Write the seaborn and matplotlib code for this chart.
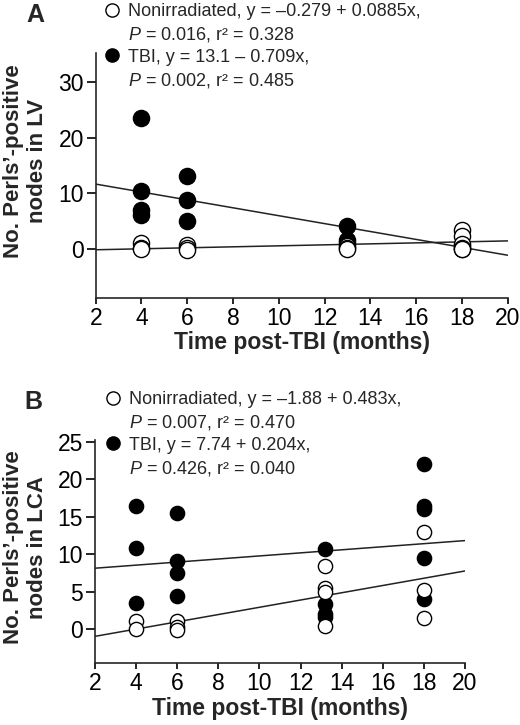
import numpy as np
import pandas as pd
import matplotlib
matplotlib.use("Agg")
import matplotlib.pyplot as plt
from matplotlib.lines import Line2D
import seaborn as sns

# ---------------- data ----------------
# Panel A: LV
a_tbi_x = [4, 4, 4, 4, 6, 6, 6, 13, 13, 13, 18, 18]
a_tbi_y = [23.5, 10.5, 7.0, 6.2, 13.2, 8.8, 5.0, 4.2, 1.7, 1.2, 0.5, 0.0]
a_non_x = [4, 4, 4, 6, 6, 6, 13, 13, 13, 18, 18, 18, 18, 18]
a_non_y = [1.2, 0.2, 0.0, 0.8, 0.3, -0.1, 0.5, 0.2, 0.0, 3.5, 2.4, 0.9, 0.3, 0.0]
a_non_fit = (-0.279, 0.0885)   # intercept, slope
a_tbi_fit = (13.1, -0.709)

# Panel B: LCA
b_tbi_x = [4, 4, 4, 6, 6, 6, 6, 13.2, 13.2, 13.2, 13.2, 18, 18, 18, 18, 18]
b_tbi_y = [16.4, 10.9, 3.5, 15.45, 9.1, 7.45, 4.4, 10.65, 3.45, 2.0, 1.7, 22.0, 16.4, 16.0, 9.45, 4.0]
b_non_x = [4, 4, 6, 6, 6, 13.2, 13.2, 13.2, 13.2, 18, 18, 18]
b_non_y = [1.1, 0.0, 1.1, 0.35, -0.1, 8.5, 5.5, 5.0, 0.5, 13.0, 5.3, 1.55]
b_non_fit = (-1.88, 0.483)
b_tbi_fit = (7.74, 0.204)

a_legend = ["Nonirradiated, y = \u20130.279 + 0.0885x,",
            "$P$ = 0.016, r\u00b2 = 0.328",
            "TBI, y = 13.1 \u2013 0.709x,",
            "$P$ = 0.002, r\u00b2 = 0.485"]
b_legend = ["Nonirradiated, y = \u20131.88 + 0.483x,",
            "$P$ = 0.007, r\u00b2 = 0.470",
            "TBI, y = 7.74 + 0.204x,",
            "$P$ = 0.426, r\u00b2 = 0.040"]

fit_x = [2, 20]

# ---------------- style ----------------
sns.set_style("ticks")
plt.rcParams["font.family"] = ["Liberation Sans", "DejaVu Sans"]
plt.rcParams["mathtext.fontset"] = "custom"
plt.rcParams["mathtext.rm"] = "Liberation Sans"
plt.rcParams["mathtext.it"] = "Liberation Sans:italic"
plt.rcParams["axes.linewidth"] = 1.2
plt.rcParams["xtick.major.width"] = 1.2
plt.rcParams["ytick.major.width"] = 1.2
plt.rcParams["xtick.major.size"] = 4.5
plt.rcParams["ytick.major.size"] = 6.5

fig = plt.figure(figsize=(5.2, 7.25), dpi=100)
W, H = 520, 725


def px_axes(l, t, r, b):
    return fig.add_axes([l / W, 1 - b / H, (r - l) / W, (b - t) / H])


def draw_panel(ax, tbi_x, tbi_y, non_x, non_y, non_fit, tbi_fit, ms):
    for a0, b0 in (non_fit, tbi_fit):
        fy = [a0 + b0 * v for v in fit_x]
        sns.lineplot(x=fit_x, y=fy, ax=ax, color="#222222", lw=1.1, zorder=1)
    sns.scatterplot(x=tbi_x, y=tbi_y, ax=ax, s=ms, color="black",
                    edgecolor="black", linewidth=1.0, zorder=2)
    sns.scatterplot(x=non_x, y=non_y, ax=ax, s=ms, color="white",
                    edgecolor="black", linewidth=1.0, zorder=3)
    sns.despine(ax=ax)
    ax.set_xlim(2, 20)
    ax.set_xticks(np.arange(2, 21, 2))
    ax.tick_params(labelsize=16.5, pad=2, colors="black")
    ax.set_xlabel("Time post-TBI (months)", fontsize=16.5, fontweight="bold", labelpad=1)


def add_legend(labels, x, y):
    handles = [Line2D([], [], marker="o", ls="none", ms=9.5, mfc="white", mec="black", mew=1.0),
               Line2D([], [], ls="none"),
               Line2D([], [], marker="o", ls="none", ms=9.5, mfc="black", mec="black", mew=1.0),
               Line2D([], [], ls="none")]
    fig.legend(handles, labels, loc="upper left", bbox_to_anchor=(x / W, 1 - y / H),
               frameon=False, fontsize=13, handlelength=0.9, handletextpad=0.45,
               labelspacing=0.27, borderpad=0, borderaxespad=0)


# Panel A
axA = px_axes(95.7, 53, 507.7, 297.7)
draw_panel(axA, a_tbi_x, a_tbi_y, a_non_x, a_non_y, a_non_fit, a_tbi_fit, 135)
axA.set_ylim(-8.7, 35.2)
axA.set_yticks([0, 10, 20, 30])
axA.set_ylabel("No. Perls\u2019-positive\nnodes in LV", fontsize=16, fontweight="bold",
               linespacing=1.2)
axA.yaxis.set_label_coords(-0.115, 0.56)
fig.text(35 / W, 1 - 15 / H, "A", fontsize=18, fontweight="bold", ha="center", va="center")
add_legend(a_legend, 104, 3)

# Panel B
axB = px_axes(95, 440, 465, 663.3)
draw_panel(axB, b_tbi_x, b_tbi_y, b_non_x, b_non_y, b_non_fit, b_tbi_fit, 105)
axB.set_ylim(-4.5, 25.2)
axB.set_yticks([0, 5, 10, 15, 20, 25])
axB.set_ylabel("No. Perls\u2019-positive\nnodes in LCA", fontsize=16, fontweight="bold",
               linespacing=1.2)
axB.yaxis.set_label_coords(-0.127, 0.52)
fig.text(33 / W, 1 - 402 / H, "B", fontsize=18, fontweight="bold", ha="center", va="center")
add_legend(b_legend, 105, 391)

fig.savefig("out.png", dpi=100)
